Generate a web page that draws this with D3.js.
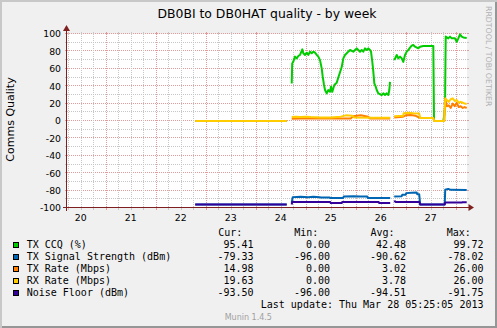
<!DOCTYPE html>
<html>
<head>
<meta charset="utf-8">
<script src="https://cdn.jsdelivr.net/npm/d3@7"></script>
<style>
  html, body { margin: 0; padding: 0; background: #f0f0f0; }
  svg { display: block; }
</style>
</head>
<body>
<svg id="chart" width="497" height="328"></svg>
<script>
// ---- Data ----------------------------------------------------------------
// Times are decimal days of March 2013 (e.g. 24.5 = Mar 24 12:00 UTC); null = no data.
const title = "DB0BI to DB0HAT quality - by week";
const yAxisTitle = "Comms Quality";
const yTickValues = [-100, -80, -60, -40, -20, 0, 20, 40, 60, 80, 100];
const dayLabels = [20, 21, 22, 23, 24, 25, 26, 27];
const rangeStart = 20.2257;   // Mar 20 05:25
const rangeEnd = 28.2257;     // Mar 28 05:25

const seriesNames = ["TX CCQ (%)", "TX Signal Strength (dBm)", "TX Rate (Mbps)", "RX Rate (Mbps)", "Noise Floor (dBm)"];
const seriesColors = ["#00cc00", "#0066b3", "#ff8000", "#ffcc00", "#330099"];

const txCcq = [
  [22.79, 0], [24.62, 0], [24.67, null],
  [24.72, 43], [24.73, 66], [24.75, 68], [24.786, 74], [24.82, 72], [24.852, 74.7], [24.886, 75.9],
  [24.932, 82.4], [24.952, 77.8], [24.986, 75.9], [25.02, 78.5], [25.052, 76], [25.086, 79.7],
  [25.12, 77.8], [25.152, 79.7], [25.186, 78.5], [25.22, 76], [25.252, 74], [25.286, 70],
  [25.32, 60.5], [25.34, 51], [25.366, 41.4], [25.386, 35.6], [25.42, 31.8], [25.452, 35.6],
  [25.486, 33.7], [25.506, 39.5], [25.532, 33.7], [25.572, 41.4], [25.62, 44], [25.652, 50],
  [25.686, 56], [25.72, 62], [25.752, 72], [25.786, 75.9], [25.82, 77.8], [25.852, 79.7],
  [25.886, 81.6], [25.952, 79.7], [25.986, 81.6], [26.02, 83.5], [26.052, 81.6], [26.086, 79.7],
  [26.12, 81.6], [26.152, 79.7], [26.186, 83.5], [26.22, 81.6], [26.252, 83.5], [26.286, 81.6],
  [26.306, 79.7], [26.332, 68], [26.352, 56.7], [26.372, 43.3], [26.4, 39.5], [26.42, 35.6],
  [26.452, 31.8], [26.52, 29.9], [26.552, 31.8], [26.586, 29.9], [26.62, 31.8], [26.652, 29.9],
  [26.672, 35.6], [26.686, 45], [26.73, null],
  [26.772, 70], [26.82, 75.9], [26.852, 72], [26.886, 74], [26.92, 72], [26.952, 68],
  [26.986, 75.9], [27.02, 79.7], [27.052, 81.6], [27.086, 84.3], [27.12, 86.6], [27.152, 87.4],
  [27.186, 85.4], [27.252, 83.5], [27.286, 85.4], [27.352, 86.2], [27.552, 86.2], [27.566, 1],
  [27.576, 0], [27.752, 0], [27.772, 7], [27.786, 16], [27.8, 97], [27.852, 95], [27.886, 97],
  [27.92, 95], [27.986, 95], [28.02, 91], [28.052, 95], [28.086, 99.7], [28.12, 97],
  [28.152, 96], [28.22, 95.41]
];

const txSignal = [
  [22.79, -96], [24.62, -96], [24.67, null],
  [24.72, -94], [24.74, -87.5], [24.9, -87.2], [25.05, -87.6], [25.15, -87], [25.28, -87.5],
  [25.29, -88], [25.48, -88], [25.49, -88.6], [25.75, -88.6], [25.76, -86.7], [25.95, -86.4],
  [26.1, -86.9], [26.23, -86.7], [26.24, -88.6], [26.69, -88.6], [26.73, null],
  [26.77, -86.7], [26.92, -86.5], [26.93, -84.8], [27.0, -84.8], [27.01, -82.9], [27.12, -82.5],
  [27.22, -82.3], [27.23, -84.3], [27.27, -84.3], [27.29, -96], [27.78, -96], [27.79, -79.1],
  [27.85, -78.02], [27.9, -79.1], [28.22, -79.33]
];

const txRate = [
  [22.79, 0], [24.62, 0], [24.67, null],
  [24.72, 2.5], [24.9, 3], [25.1, 2.8], [25.4, 3], [25.9, 3], [25.95, 5.5], [26.1, 6.5],
  [26.25, 5], [26.28, 3], [26.69, 3], [26.73, null],
  [26.77, 4], [26.95, 5], [27.0, 6.5], [27.1, 7], [27.2, 6], [27.27, 4], [27.29, 3.5],
  [27.55, 3.5], [27.57, 0], [27.77, 0], [27.79, 26], [27.82, 17], [27.86, 18], [27.9, 15],
  [27.94, 20], [27.98, 17], [28.02, 21], [28.06, 16], [28.1, 17], [28.14, 15], [28.18, 16],
  [28.22, 14.98]
];

const rxRate = [
  [22.79, 0], [24.62, 0], [24.67, null],
  [24.72, 4.5], [24.8, 5], [24.9, 4.5], [25.0, 5], [25.1, 4.5], [25.3, 4], [25.5, 4], [25.7, 5],
  [25.8, 6.5], [25.93, 6], [25.97, 4], [26.3, 3.8], [26.69, 3.8], [26.73, null],
  [26.77, 5.5], [26.95, 6], [26.96, 9], [27.05, 9.5], [27.15, 8.8], [27.27, 8.5], [27.29, 3.5],
  [27.55, 3.5], [27.57, 0], [27.77, 0], [27.79, 26], [27.82, 24], [27.86, 22], [27.9, 25],
  [27.94, 26], [27.98, 23], [28.02, 24], [28.06, 21], [28.1, 22], [28.14, 21], [28.18, 20],
  [28.22, 19.63]
];

const noiseFloor = [
  [22.79, -96], [24.62, -96], [24.67, null],
  [24.72, -96], [24.73, -93], [25.49, -93], [25.5, -94.3], [25.72, -94.3], [25.73, -93],
  [26.46, -93], [26.47, -94.3], [26.69, -94.3], [26.73, null],
  [26.77, -91.75], [26.8, -93], [27.27, -93], [27.29, -96], [27.78, -96], [27.79, -93.8],
  [28.12, -93.8], [28.13, -93.4], [28.22, -93.5]
];

const statCur = [95.41, -79.33, 14.98, 19.63, -93.50];
const statMin = [0.00, -96.00, 0.00, 0.00, -96.00];
const statAvg = [42.48, -90.62, 3.02, 3.78, -94.51];
const statMax = [99.72, -78.02, 26.00, 26.00, -91.75];
const statHeaders = ["Cur:", "Min:", "Avg:", "Max:"];
const lastUpdate = "Last update: Thu Mar 28 05:25:05 2013";
const footer = "Munin 1.4.5";
const watermark = "RRDTOOL / TOBI OETIKER";

// ---- Layout --------------------------------------------------------------
const W = 497, H = 328;
const plot = { left: 67, right: 467, top: 34, bottom: 208 };
const sansFont = "'DejaVu Sans', sans-serif";
const monoFont = "'DejaVu Sans Mono', monospace";
const gridColor = "#c6c6c6";
const majorGridColor = "#e29a9a";
const axisColor = "#7f1f1f";

const toDate = d => new Date(Date.UTC(2013, 2, 1) + (d - 1) * 864e5);

const svg = d3.select("#chart");

const x = d3.scaleUtc()
  .domain([toDate(rangeStart), toDate(rangeEnd)])
  .range([plot.left, plot.right]);
const y = d3.scaleLinear()
  .domain([-100, 100])
  .range([plot.bottom, plot.top]);

// Frame with shaded edges
svg.append("rect").attr("width", W).attr("height", H).attr("fill", "#f0f0f0");
svg.append("path").attr("d", `M0,0H${W}V2H2V${H}H0Z`).attr("fill", "#c8c8c8");
svg.append("path").attr("d", `M${W},${H}H2V${H - 2}H${W - 2}V2H${W}Z`).attr("fill", "#969696");

// Canvas
svg.append("rect")
  .attr("x", plot.left).attr("y", plot.top)
  .attr("width", plot.right - plot.left).attr("height", plot.bottom - plot.top)
  .attr("fill", "#ffffff");

const snap = v => Math.round(v) + 0.5;
const grid = svg.append("g").attr("shape-rendering", "crispEdges");

// Horizontal grid: minor every 10, major every 20
d3.range(-100, 101, 10).forEach(v => {
  const major = v % 20 === 0;
  const yy = snap(y(v)) - 1;
  const col = major ? majorGridColor : gridColor;
  grid.append("line")
    .attr("x1", plot.left).attr("x2", plot.right).attr("y1", yy).attr("y2", yy)
    .attr("stroke", col).attr("stroke-dasharray", "1,1");
  grid.append("line").attr("x1", plot.left - 2).attr("x2", plot.left).attr("y1", yy).attr("y2", yy).attr("stroke", col);
  grid.append("line").attr("x1", plot.right).attr("x2", plot.right + 2).attr("y1", yy).attr("y2", yy).attr("stroke", col);
});

// Vertical grid: minor every 6 hours, major at midnight
const sixHours = d3.utcHour.every(6).range(x.domain()[0], x.domain()[1]);
sixHours.forEach(t => {
  const major = t.getUTCHours() === 0;
  const xx = snap(x(t));
  const col = major ? majorGridColor : gridColor;
  grid.append("line")
    .attr("x1", xx).attr("x2", xx).attr("y1", plot.top).attr("y2", plot.bottom)
    .attr("stroke", col).attr("stroke-dasharray", "1,1");
  grid.append("line").attr("x1", xx).attr("x2", xx).attr("y1", plot.bottom).attr("y2", plot.bottom + 2).attr("stroke", col);
  grid.append("line").attr("x1", xx).attr("x2", xx).attr("y1", plot.top - 2).attr("y2", plot.top).attr("stroke", col);
});

// Series lines
const series = [txCcq, txSignal, txRate, rxRate, noiseFloor];
const line = d3.line()
  .defined(d => d[1] !== null)
  .x(d => x(toDate(d[0])))
  .y(d => y(d[1]));
series.forEach((data, i) => {
  svg.append("path")
    .attr("d", line(data))
    .attr("fill", "none")
    .attr("stroke", seriesColors[i])
    .attr("stroke-width", 2)
    .attr("stroke-linejoin", "round");
});

// Axes with arrows
const axes = svg.append("g").attr("shape-rendering", "crispEdges");
axes.append("line")
  .attr("x1", plot.left - 4).attr("x2", plot.right + 4)
  .attr("y1", snap(y(-100)) - 1).attr("y2", snap(y(-100)) - 1)
  .attr("stroke", axisColor);
axes.append("line")
  .attr("x1", plot.left - 0.5).attr("x2", plot.left - 0.5)
  .attr("y1", plot.bottom + 3).attr("y2", plot.top - 4)
  .attr("stroke", axisColor);
const ax = snap(y(-100)) - 1;
svg.append("path")
  .attr("d", `M${plot.right + 1.5},${ax - 3.5}L${plot.right + 7},${ax}L${plot.right + 1.5},${ax + 3.5}Z`)
  .attr("fill", axisColor);
svg.append("path")
  .attr("d", `M${plot.left - 4},${plot.top - 3}L${plot.left - 0.5},${plot.top - 9}L${plot.left + 3},${plot.top - 3}Z`)
  .attr("fill", axisColor);

// Y tick labels
svg.append("g")
  .selectAll("text")
  .data(yTickValues)
  .join("text")
  .attr("x", plot.left - 6)
  .attr("y", d => y(d) + 3.3)
  .attr("text-anchor", "end")
  .attr("font-family", sansFont)
  .attr("font-size", "9.3px")
  .attr("fill", "#000")
  .text(d => d);

// X day labels centred on noon
svg.append("g")
  .selectAll("text")
  .data(dayLabels)
  .join("text")
  .attr("x", d => x(toDate(d + 0.5)))
  .attr("y", 221)
  .attr("text-anchor", "middle")
  .attr("font-family", sansFont)
  .attr("font-size", "9.3px")
  .attr("fill", "#000")
  .text(d => d);

// Title
svg.append("text")
  .attr("x", 267).attr("y", 18)
  .attr("text-anchor", "middle")
  .attr("font-family", sansFont)
  .attr("font-size", "12.4px")
  .attr("fill", "#000")
  .text(title);

// Vertical axis title
svg.append("text")
  .attr("transform", "translate(14,119.5) rotate(-90)")
  .attr("text-anchor", "middle")
  .attr("font-family", sansFont)
  .attr("font-size", "11px")
  .attr("fill", "#000")
  .text(yAxisTitle);

// Watermark
svg.append("text")
  .attr("transform", "translate(485.5,6) rotate(90)")
  .attr("font-family", sansFont)
  .attr("font-size", "7.8px")
  .attr("fill", "#b0b0b0")
  .text(watermark);

// Legend
const legend = svg.append("g").attr("font-family", monoFont).attr("font-size", "10px").attr("fill", "#000");
const headerX = [218.3, 294.3, 370.5, 446.7];
const valueX = [253.5, 330, 406, 483.5];
statHeaders.forEach((h, j) => {
  legend.append("text").attr("x", headerX[j]).attr("y", 235.6).text(h);
});
const stats = [statCur, statMin, statAvg, statMax];
seriesNames.forEach((name, i) => {
  const base = 247.6 + i * 12;
  legend.append("rect")
    .attr("x", 13.5).attr("y", base - 5.5)
    .attr("width", 5).attr("height", 5)
    .attr("fill", seriesColors[i])
    .attr("stroke", "#000").attr("stroke-width", 1)
    .attr("shape-rendering", "crispEdges");
  legend.append("text").attr("x", 26.7).attr("y", base).text(name);
  stats.forEach((col, j) => {
    legend.append("text")
      .attr("x", valueX[j]).attr("y", base)
      .attr("text-anchor", "end")
      .text(col[i].toFixed(2));
  });
});
legend.append("text")
  .attr("x", 483.5).attr("y", 247.6 + 5 * 12)
  .attr("text-anchor", "end")
  .text(lastUpdate);

svg.append("text")
  .attr("x", 248.3).attr("y", 320)
  .attr("text-anchor", "middle")
  .attr("font-family", sansFont)
  .attr("font-size", "8px")
  .attr("fill", "#a0a0a0")
  .text(footer);
</script>
</body>
</html>
